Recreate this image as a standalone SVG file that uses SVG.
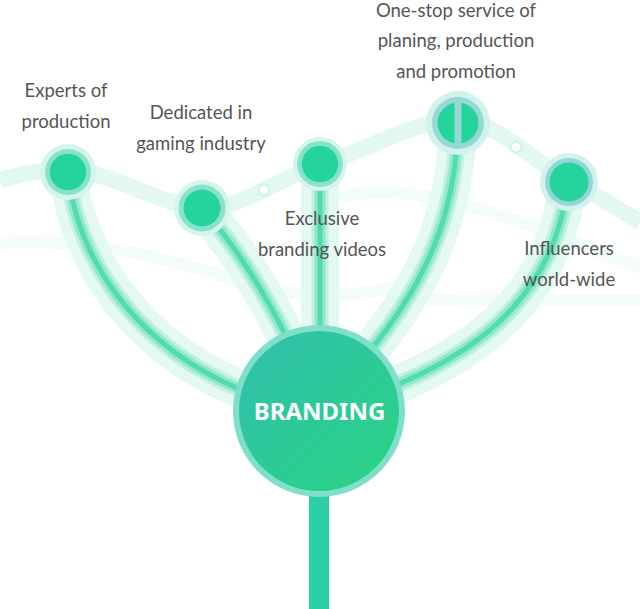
<svg xmlns="http://www.w3.org/2000/svg" width="640" height="609" viewBox="0 0 640 609">
<defs>
<style>
.lbl{font-family:Lato,"Open Sans","Liberation Sans",sans-serif;font-size:18.5px;fill:#555;text-anchor:middle}
.faint{fill:none;stroke:#f3fcf9;stroke-width:12;stroke-linecap:round}
.wave{fill:none;stroke:#e2f8f0;stroke-width:16}
.b0{fill:none;stroke:#e4f9f2;stroke-width:38}
.b1{fill:none;stroke:#bff0e0;stroke-width:17}
.b2{fill:none;stroke:#92e7cc;stroke-width:11}
.b3{fill:none;stroke:#50dcb0;stroke-width:5}
.nOut{fill:#d4f5ec}
.nRing{fill:#8be2cc}
.nIn{fill:#25d49c}
.dot{fill:#fff;stroke:#d3f4ea;stroke-width:2.5}
</style>
<linearGradient id="bg" x1="0" y1="0" x2="1" y2="1">
<stop offset="0" stop-color="#31c0ae"/>
<stop offset="1" stop-color="#29d382"/>
</linearGradient>
</defs>
<rect width="640" height="609" fill="#fff"/>
<g id="background">
<path class="faint" d="M0,243 C90,238 170,258 240,282 C300,300 360,300 420,280"/>
<path class="faint" d="M345,196 C420,180 520,220 640,268"/>
<path class="faint" d="M430,300 C500,296 580,302 640,300"/>
<path class="wave" d="M0,180 C30,172 50,169 68,170 C120,174 160,206 202,208 C240,210 270,182 320,165 C380,144 420,119 458,120 C500,123 530,160 568,180 C600,197 620,210 640,222"/>
<circle class="dot" cx="264" cy="190" r="5.5"/>
<circle class="dot" cx="516" cy="147" r="5.5"/>
</g>
<g id="connectors">
<g>
<path class="b0" d="M68,172 C80,290 180,390 319,411"/>
<path class="b0" d="M202,208 C235,245 280,310 319,411"/>
<path class="b0" d="M320,165 L320,411"/>
<path class="b0" d="M458,123 C455,250 400,320 319,411"/>
<path class="b0" d="M568,182 C555,300 470,370 319,411"/>
</g>
<g>
<path class="b1" d="M68,172 C80,290 180,390 319,411"/>
<path class="b1" d="M202,208 C235,245 280,310 319,411"/>
<path class="b1" d="M320,165 L320,411"/>
<path class="b1" d="M458,123 C455,250 400,320 319,411"/>
<path class="b1" d="M568,182 C555,300 470,370 319,411"/>
</g>
<g>
<path class="b2" d="M68,172 C80,290 180,390 319,411"/>
<path class="b2" d="M202,208 C235,245 280,310 319,411"/>
<path class="b2" d="M320,165 L320,411"/>
<path class="b2" d="M458,123 C455,250 400,320 319,411"/>
<path class="b2" d="M568,182 C555,300 470,370 319,411"/>
</g>
<g>
<path class="b3" d="M68,172 C80,290 180,390 319,411"/>
<path class="b3" d="M202,208 C235,245 280,310 319,411"/>
<path class="b3" d="M320,165 L320,411"/>
<path class="b3" d="M458,123 C455,250 400,320 319,411"/>
<path class="b3" d="M568,182 C555,300 470,370 319,411"/>
</g>
<rect x="309" y="488" width="20" height="121" fill="#2bcfa5"/>
</g>
<g id="node-experts">
<circle class="nOut" cx="68" cy="172" r="28"/>
<circle class="nRing" cx="68" cy="172" r="23"/>
<circle class="nIn" cx="68" cy="172" r="18.3"/>
<text class="lbl" x="66" y="97">Experts of</text>
<text class="lbl" x="66" y="128">production</text>
</g>
<g id="node-dedicated">
<circle class="nOut" cx="202" cy="208" r="28"/>
<circle class="nRing" cx="202" cy="208" r="23.5"/>
<circle class="nIn" cx="202" cy="208" r="18.5"/>
<text class="lbl" x="201" y="119">Dedicated in</text>
<text class="lbl" x="201" y="150">gaming industry</text>
</g>
<g id="node-exclusive">
<circle class="nOut" cx="320" cy="164" r="27"/>
<circle class="nRing" cx="320" cy="164" r="23"/>
<circle class="nIn" cx="320" cy="164" r="18.3"/>
<text class="lbl" x="322" y="225">Exclusive</text>
<text class="lbl" x="322" y="256">branding videos</text>
</g>
<g id="node-onestop">
<circle cx="458" cy="123" r="32" fill="#d2f2ee"/>
<circle cx="458" cy="123" r="26" fill="#96d8d6"/>
<circle class="nIn" cx="458" cy="123" r="20.5"/>
<rect x="454.5" y="101" width="7" height="44" fill="#96d8d6"/>
<text class="lbl" x="456" y="17">One-stop service of</text>
<text class="lbl" x="456" y="47">planing, production</text>
<text class="lbl" x="456" y="78">and promotion</text>
</g>
<g id="node-influencers">
<circle cx="569" cy="182" r="29" fill="#d2f2ee"/>
<circle cx="569" cy="182" r="24" fill="#93d6d6"/>
<circle class="nIn" cx="569" cy="182" r="19.5"/>
<text class="lbl" x="569" y="255">Influencers</text>
<text class="lbl" x="569" y="286">world-wide</text>
</g>
<g id="node-branding">
<circle cx="319" cy="411" r="86" fill="#80dfca"/>
<circle cx="319" cy="411" r="80" fill="url(#bg)"/>
<text x="319.5" y="420" font-family="'Noto Sans','Open Sans','Liberation Sans',sans-serif" font-size="24" font-weight="bold" fill="#fff" text-anchor="middle">BRANDING</text>
</g>
</svg>
